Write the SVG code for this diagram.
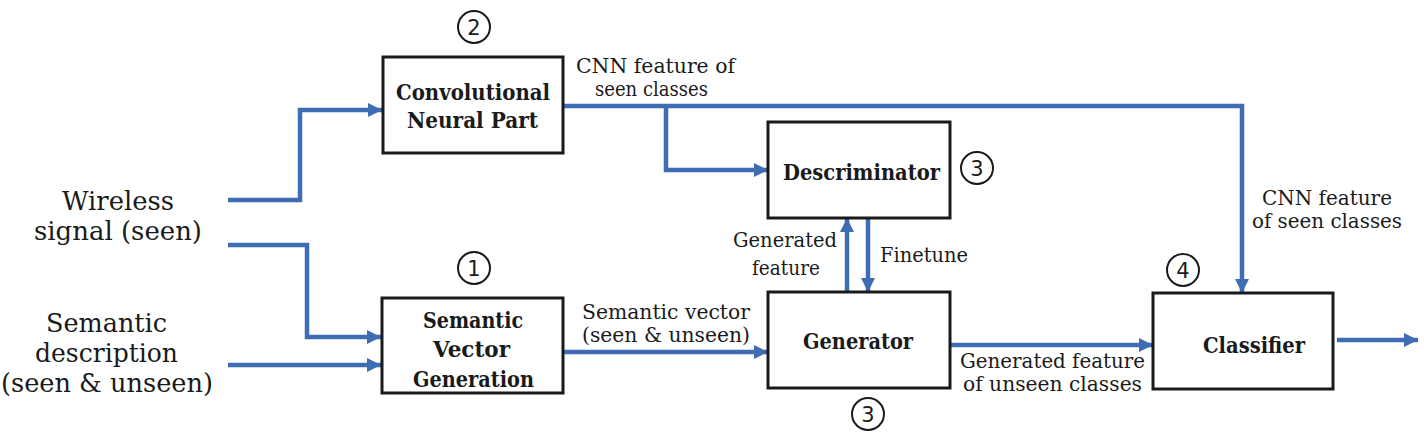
<svg xmlns="http://www.w3.org/2000/svg" width="1424" height="436" viewBox="0 0 1424 436">
<style>
.box{fill:#fff;stroke:#1a1a1a;stroke-width:3}
.bt{font-family:'DejaVu Serif',serif;font-weight:bold;font-size:22px;fill:#1a1a1a}
.lt{font-family:'DejaVu Serif',serif;font-size:20px;fill:#1a1a1a}
.in{font-family:'DejaVu Serif',serif;font-size:26px;fill:#1a1a1a}
.cn{fill:none;stroke:#1a1a1a;stroke-width:2}
.ct{font-family:'DejaVu Sans',sans-serif;font-size:21px;fill:#1a1a1a;text-anchor:middle}
.ln{fill:none;stroke:#3e6db4;stroke-width:4.5}
</style>
<defs>
<marker id="a" viewBox="0 0 10 10" refX="10" refY="5" markerWidth="14" markerHeight="14" markerUnits="userSpaceOnUse" orient="auto">
<path d="M0,0 L10,5 L0,10 Z" fill="#3e6db4"/>
</marker>
</defs>

<g id="connectors">
<polyline class="ln" points="228,200 300,200 300,110 382,110" marker-end="url(#a)"/>
<polyline class="ln" points="228,245 307,245 307,337 381,337" marker-end="url(#a)"/>
<polyline class="ln" points="228,365 381,365" marker-end="url(#a)"/>
<polyline class="ln" points="563,106 1242,106 1242,293" marker-end="url(#a)"/>
<polyline class="ln" points="666,106 666,170 768,170" marker-end="url(#a)"/>
<polyline class="ln" points="847,291 847,218" marker-end="url(#a)"/>
<polyline class="ln" points="868,218 868,292" marker-end="url(#a)"/>
<polyline class="ln" points="563,352 768,352" marker-end="url(#a)"/>
<polyline class="ln" points="950,345 1153,345" marker-end="url(#a)"/>
<polyline class="ln" points="1337,340 1418,340" marker-end="url(#a)"/>
<text class="lt" x="576" y="73" textLength="159" lengthAdjust="spacingAndGlyphs">CNN feature of</text>
<text class="lt" x="595" y="96" textLength="113" lengthAdjust="spacingAndGlyphs">seen classes</text>
<text class="lt" x="1262" y="205" textLength="130" lengthAdjust="spacingAndGlyphs">CNN feature</text>
<text class="lt" x="1252" y="228" textLength="150" lengthAdjust="spacingAndGlyphs">of seen classes</text>
<text class="lt" x="733" y="247" textLength="104" lengthAdjust="spacingAndGlyphs">Generated</text>
<text class="lt" x="752" y="275" textLength="68" lengthAdjust="spacingAndGlyphs">feature</text>
<text class="lt" x="880" y="262" textLength="88" lengthAdjust="spacingAndGlyphs">Finetune</text>
<text class="lt" x="582" y="319" textLength="168" lengthAdjust="spacingAndGlyphs">Semantic vector</text>
<text class="lt" x="582" y="342" textLength="168" lengthAdjust="spacingAndGlyphs">(seen &amp; unseen)</text>
<text class="lt" x="960" y="368" textLength="185" lengthAdjust="spacingAndGlyphs">Generated feature</text>
<text class="lt" x="963" y="391" textLength="179" lengthAdjust="spacingAndGlyphs">of unseen classes</text>
</g>

<g id="wireless">
<text class="in" x="62" y="210" textLength="112" lengthAdjust="spacingAndGlyphs">Wireless</text>
<text class="in" x="34" y="240" textLength="168" lengthAdjust="spacingAndGlyphs">signal (seen)</text>
</g>
<g id="semdesc">
<text class="in" x="46" y="332" textLength="121" lengthAdjust="spacingAndGlyphs">Semantic</text>
<text class="in" x="35" y="362" textLength="143" lengthAdjust="spacingAndGlyphs">description</text>
<text class="in" x="1" y="392" textLength="212" lengthAdjust="spacingAndGlyphs">(seen &amp; unseen)</text>
</g>

<g id="cnn">
<rect class="box" x="383" y="57" width="180" height="96"/>
<text class="bt" x="396" y="100" textLength="154" lengthAdjust="spacingAndGlyphs">Convolutional</text>
<text class="bt" x="407" y="128" textLength="131" lengthAdjust="spacingAndGlyphs">Neural Part</text>
<circle class="cn" cx="474" cy="27" r="16"/>
<text class="ct" x="474" y="35">2</text>
</g>

<g id="descriminator">
<rect class="box" x="768" y="122" width="182" height="96"/>
<text class="bt" x="783" y="180" textLength="157" lengthAdjust="spacingAndGlyphs">Descriminator</text>
<circle class="cn" cx="977" cy="168" r="16"/>
<text class="ct" x="977" y="176">3</text>
</g>

<g id="semvec">
<rect class="box" x="382" y="298" width="181" height="95"/>
<text class="bt" x="423" y="328" textLength="100" lengthAdjust="spacingAndGlyphs">Semantic</text>
<text class="bt" x="433" y="357" textLength="77" lengthAdjust="spacingAndGlyphs">Vector</text>
<text class="bt" x="413" y="387" textLength="121" lengthAdjust="spacingAndGlyphs">Generation</text>
<circle class="cn" cx="474" cy="268" r="16"/>
<text class="ct" x="474" y="276">1</text>
</g>

<g id="generator">
<rect class="box" x="768" y="292" width="182" height="96"/>
<text class="bt" x="803" y="349" textLength="110" lengthAdjust="spacingAndGlyphs">Generator</text>
<circle class="cn" cx="868" cy="414" r="16"/>
<text class="ct" x="868" y="422">3</text>
</g>

<g id="classifier">
<rect class="box" x="1153" y="293" width="180" height="96"/>
<text class="bt" x="1203" y="353" textLength="102" lengthAdjust="spacingAndGlyphs">Classifier</text>
<circle class="cn" cx="1183" cy="270" r="16"/>
<text class="ct" x="1183" y="278">4</text>
</g>
</svg>
